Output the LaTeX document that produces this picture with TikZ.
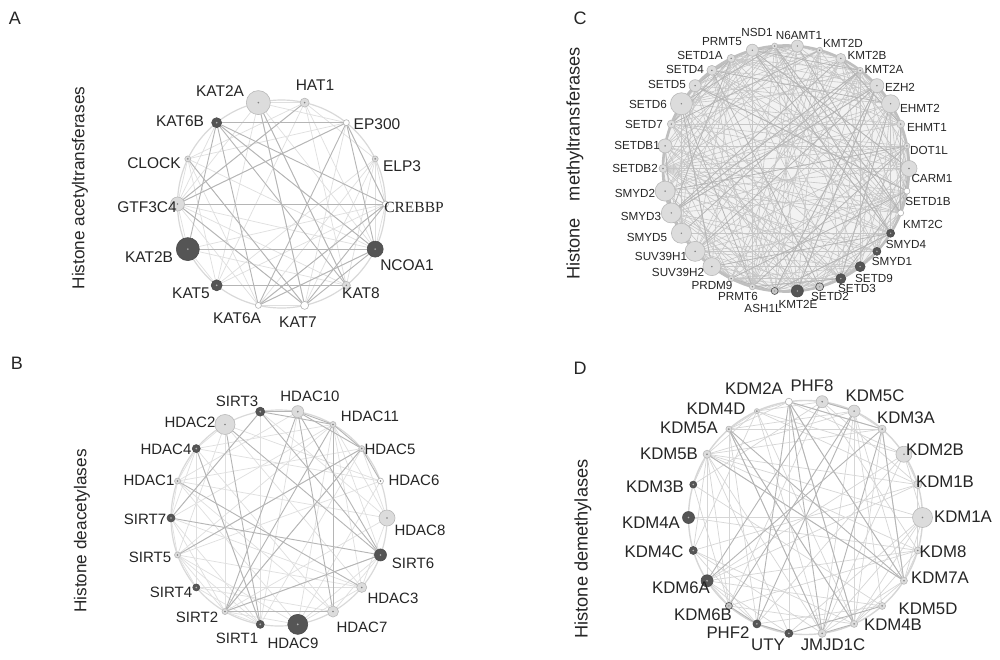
\documentclass[tikz,border=0pt]{standalone}
\usepackage{fontspec}
\setmainfont{Liberation Sans}
\newfontfamily\serifcr{Liberation Serif}
\usetikzlibrary{calc,backgrounds}
\definecolor{nL}{HTML}{DCDCDC}
\definecolor{nD}{HTML}{555555}
\definecolor{nW}{HTML}{FFFFFF}
\definecolor{txt}{HTML}{262626}
\newcommand\fsA{\fontsize{15.5}{18}\selectfont}
\newcommand\fsB{\fontsize{15}{18}\selectfont}
\newcommand\fsC{\fontsize{11.7}{14}\selectfont}
\newcommand\fsD{\fontsize{16.8}{20}\selectfont}
\newcommand\fsT{\fontsize{17.2}{20}\selectfont}
\newcommand\fsTC{\fontsize{18.2}{20}\selectfont}
\newcommand\fsP{\fontsize{18}{20}\selectfont}
\newcommand\randedges[5]{%
  \foreach \i in {0,...,#2}{%
    \pgfmathtruncatemacro\jfirst{\i+1}%
    \foreach \j in {\jfirst,...,#3}{%
      \pgfmathtruncatemacro\rkeep{rnd<#4?1:0}%
      \ifnum\rkeep=1 \draw[#5] (#1\i) -- (#1\j);\fi}}}
\begin{document}
\begin{tikzpicture}[x=1pt,y=-1pt,
  gn/.style={circle,inner sep=0pt,outer sep=0pt,line width=0.6pt},
  lab/.style={inner sep=0pt,text=txt},
  elt/.style={draw=gray!25,line width=0.7pt},
  eltd/.style={draw=gray!32,line width=0.7pt},
  edk/.style={draw=gray!58,line width=0.9pt},
  ec/.style={draw=gray!45,line width=0.6pt},
  ecd/.style={draw=gray!58,line width=0.8pt},
  ringl/.style={draw=gray!30,line width=1.2pt},
  ttl/.style={rotate=90,inner sep=0pt,text=txt},
  plet/.style={inner sep=0pt,text=txt,font=\fsP}]
\useasboundingbox (0,0) rectangle (1000,659);
\begin{pgfonlayer}{background}
\fill[white] (0,0) rectangle (1000,659);
\end{pgfonlayer}

% panel letters and titles
\node[plet] (pA) at (15,18) {A};
\node[plet] (pB) at (17,363) {B};
\node[plet] (pC) at (580,18) {C};
\node[plet] (pD) at (580,368) {D};
\node[ttl,font=\fsT] (tA) at (80,188) {Histone acetyltransferases};
\node[ttl,font=\fsT] (tB) at (82,531) {Histone deacetylases};
\node[ttl,font=\fsTC] (tC) at (575,163.5) {Histone\hspace{17pt}methyltransferases};
\node[ttl,font=\fsTC] (tD) at (583,549) {Histone demethylases};

% ---------------- Panel A
\coordinate (cA) at (281.5,204);
\foreach \n/\ang/\r/\fc/\dc/\bc/\tx/\lx/\ly in {
0/-102.86/12/nL/gray/gray!55/KAT2A/220/91,
1/-128.57/5/nD/gray!60/black!70/KAT6B/180/121,
2/-154.29/3/nL/gray/gray!55/CLOCK/154/163,
3/-180/7/nL/gray/gray!55/GTF3C4/147/207,
4/-205.71/11.5/nD/gray!60/black!70/KAT2B/149/257,
5/-231.43/5.5/nD/gray!60/black!70/KAT5/191/293,
6/-257.14/3/nW/nW/gray!60/KAT6A/237/318,
7/-282.86/4/nW/nW/gray!60/KAT7/298/322,
8/-308.57/4/nL/gray/gray!55/KAT8/361/293,
9/-334.29/8/nD/gray!60/black!70/NCOA1/407/265,
10/0/3/nW/nW/gray!60/{\serifcr CREBBP}/414/207,
11/-25.71/3/nL/gray/gray!55/ELP3/402/166,
12/-51.43/3/nW/nW/gray!60/EP300/377/124,
13/-77.14/4.5/nL/gray/gray!55/HAT1/315/85}
{
  \node[gn,fill=\fc,draw=\bc,minimum size={2*\r}] (a\n) at ($(cA)+(\ang:104)$) {};
  \fill[\dc] (a\n.center) circle (0.9);
  \node[lab,font=\fsA] (la\n) at (\lx,\ly) {\tx};
}
\begin{pgfonlayer}{background}
  \draw[ringl] (cA) circle (104);
  \pgfmathsetseed{11}
  \randedges{a}{12}{13}{0.45}{elt}
  \foreach \i/\j in {1/12,1/10,1/9,1/4,1/6,1/8,0/7,0/8,12/6,12/3,12/10,12/9,4/9,3/7,3/10,5/8,6/10,6/9,7/10,13/3,2/7,7/9}
    \draw[edk] (a\i) -- (a\j);
\end{pgfonlayer}

% ---------------- Panel B
\coordinate (cB) at (279,518);
\foreach \n/\ang/\r/\fc/\dc/\bc/\tx/\lx/\ly in {
0/-100/4.5/nD/gray!60/black!70/SIRT3/237/401,
1/-80/6/nL/gray/gray!55/HDAC10/310/396,
2/-60/3/nL/gray/gray!55/HDAC11/370/416,
3/-40/3/nL/gray/gray!55/HDAC5/390/449,
4/-20/3/nW/gray/gray!60/HDAC6/414/480,
5/0/8/nL/gray/gray!55/HDAC8/420/530,
6/20/6/nD/gray!60/black!70/SIRT6/413/563,
7/40/5/nL/gray/gray!55/HDAC3/393/598,
8/60/5.5/nL/gray/gray!55/HDAC7/362/627,
9/80/10/nD/gray!60/black!70/HDAC9/293/643,
10/100/4/nD/gray!60/black!70/SIRT1/237/638,
11/120/3/nL/gray/gray!55/SIRT2/197/617,
12/140/3.5/nD/gray!60/black!70/SIRT4/171/592,
13/160/3/nL/gray/gray!55/SIRT5/150/557,
14/180/4/nD/gray!60/black!70/SIRT7/145/519,
15/200/3/nL/gray/gray!55/HDAC1/149/480,
16/220/4/nD/gray!60/black!70/HDAC4/166/449,
17/240/10/nL/gray/gray!55/HDAC2/190/422}
{
  \node[gn,fill=\fc,draw=\bc,minimum size={2*\r}] (b\n) at ($(cB)+(\ang:108)$) {};
  \fill[\dc] (b\n.center) circle (0.9);
  \node[lab,font=\fsB] (lb\n) at (\lx,\ly) {\tx};
}
\begin{pgfonlayer}{background}
  \draw[ringl] (cB) circle (108);
  \pgfmathsetseed{23}
  \randedges{b}{16}{17}{0.38}{elt}
  \foreach \i/\j in {0/6,14/6,0/14,1/8,1/11,17/6,17/10,16/10,11/3,11/6,11/8,2/8,1/2,2/3,3/4,0/1,1/3,15/7,0/2,1/6,3/13,2/11}
    \draw[edk] (b\i) -- (b\j);
\end{pgfonlayer}

% ---------------- Panel C
\coordinate (cC) at (786,168.5);
\foreach \n/\ang/\r/\fc/\dc/\bc/\tx/\lx/\ly in {
0/-95.29/3/nL/gray/gray!55/NSD1/757/32,
1/-105.88/6/nL/gray/gray!55/PRMT5/722/42,
2/-116.47/4/nL/gray/gray!55/SETD1A/700/55,
3/-127.06/5/nL/gray/gray!55/SETD4/685/69,
4/-137.65/6/nL/gray/gray!55/SETD5/667/84,
5/-148.24/11/nL/gray/gray!55/SETD6/648/104,
6/-158.82/4/nL/gray/gray!55/SETD7/644/124,
7/-169.41/7/nL/gray/gray!55/SETDB1/637/145,
8/-180/4/nL/gray/gray!55/SETDB2/635/168,
9/-190.59/10/nL/gray/gray!55/SMYD2/635/193,
10/-201.18/10/nL/gray/gray!55/SMYD3/641/216,
11/-211.76/10/nL/gray/gray!55/SMYD5/647/237,
12/-222.35/10/nL/gray/gray!55/SUV39H1/661/256,
13/-232.94/9/nL/gray/gray!55/SUV39H2/678/272,
14/-243.53/3/nL/gray/gray!55/PRDM9/712/285,
15/-254.12/3/nL/gray/gray!55/PRMT6/738/296,
16/-264.71/3.5/gray!45/gray!80/black!70/ASH1L/763/308,
17/-275.29/6/nD/gray!60/black!70/KMT2E/798/304,
18/-285.88/4/gray!45/gray!80/black!70/SETD2/830/296,
19/-296.47/5/nD/gray!60/black!70/SETD3/857/288,
20/-307.06/5/nD/gray!60/black!70/SETD9/874/278,
21/-317.65/4/nD/gray!60/black!70/SMYD1/892/261,
22/-328.24/4/nD/gray!60/black!70/SMYD4/906/244,
23/-338.82/3/nW/nW/gray!60/KMT2C/923/224,
24/-349.41/3/nW/nW/gray!60/SETD1B/928/201,
25/0/8/nL/gray/gray!55/CARM1/932/178,
26/-10.59/3/nL/gray/gray!55/DOT1L/929/150,
27/-21.18/4/nL/gray/gray!55/EHMT1/927/127,
28/-31.76/9/nL/gray/gray!55/EHMT2/920/108,
29/-42.35/7/nL/gray/gray!55/EZH2/900/87,
30/-52.94/3/nL/gray/gray!55/KMT2A/884/69,
31/-63.53/5/nL/gray/gray!55/KMT2B/867/55,
32/-74.12/3/nL/gray/gray!55/KMT2D/843/43,
33/-84.71/6/nL/gray/gray!55/N6AMT1/799/35}
{
  \node[gn,fill=\fc,draw=\bc,minimum size={2*\r}] (c\n) at ($(cC)+(\ang:123)$) {};
  \fill[\dc] (c\n.center) circle (0.8);
  \node[lab,font=\fsC] (lc\n) at (\lx,\ly) {\tx};
}
\begin{pgfonlayer}{background}
  \fill[gray!10] (cC) circle (123);
  \pgfmathsetseed{5}
  \randedges{c}{32}{33}{0.42}{ec}
  \pgfmathsetseed{77}
  \randedges{c}{32}{33}{0.07}{ecd}
  \draw[draw=gray!50,line width=2.6pt] (cC) circle (123);
\end{pgfonlayer}

% ---------------- Panel D
\coordinate (cD) at (805.5,517.5);
\foreach \n/\ang/\r/\fc/\dc/\bc/\tx/\lx/\ly in {
0/0/10/nL/gray/gray!55/KDM1A/963/517,
1/-16.36/4/nL/gray/gray!55/KDM1B/945/482,
2/-32.73/8/nL/gray/gray!55/KDM2B/935/450,
3/-49.09/4/nL/gray/gray!55/KDM3A/906/418,
4/-65.45/6/nL/gray/gray!55/KDM5C/875/396,
5/-81.82/6/nL/gray/gray!55/PHF8/812/386,
6/-98.18/3.5/nW/nW/gray!60/KDM2A/754/389,
7/-114.55/2.5/nL/gray/gray!55/KDM4D/716/409,
8/-130.91/3/nL/gray/gray!55/KDM5A/689/428,
9/-147.27/4/nL/gray/gray!55/KDM5B/669/454,
10/-163.64/3.5/nD/gray!60/black!70/KDM3B/655/487,
11/-180/6/nD/gray!60/black!70/KDM4A/651/523,
12/-196.36/4/nD/gray!60/black!70/KDM4C/654/552,
13/-212.73/6/nD/gray!60/black!70/KDM6A/681/588,
14/-229.09/3.5/gray!45/gray!80/black!70/KDM6B/703/615,
15/-245.45/4/nD/gray!60/black!70/PHF2/728/633,
16/-261.82/4/nD/gray!60/black!70/UTY/768/645,
17/-278.18/4/nL/gray/gray!55/JMJD1C/833/645,
18/-294.55/3.5/nL/gray/gray!55/KDM4B/893/625,
19/-310.91/3.5/nL/gray/gray!55/KDM5D/928/609,
20/-327.27/3.5/nL/gray/gray!55/KDM7A/940/578,
21/-343.64/3.5/nL/gray/gray!55/KDM8/943/552}
{
  \node[gn,fill=\fc,draw=\bc,minimum size={2*\r}] (d\n) at ($(cD)+(\ang:117)$) {};
  \fill[\dc] (d\n.center) circle (0.9);
  \node[lab,font=\fsD] (ld\n) at (\lx,\ly) {\tx};
}
\begin{pgfonlayer}{background}
  \draw[draw=gray!32,line width=1.4pt] (cD) circle (117);
  \pgfmathsetseed{41}
  \randedges{d}{20}{21}{0.34}{eltd}
  \foreach \i/\j in {16/19,6/15,6/20,6/17,8/17,8/18,4/14,3/17,3/20,8/20,9/20,6/3,5/4,5/13,6/18,4/15,3/13,17/18,14/15,15/16}
    \draw[edk] (d\i) -- (d\j);
\end{pgfonlayer}
\end{tikzpicture}
\end{document}
